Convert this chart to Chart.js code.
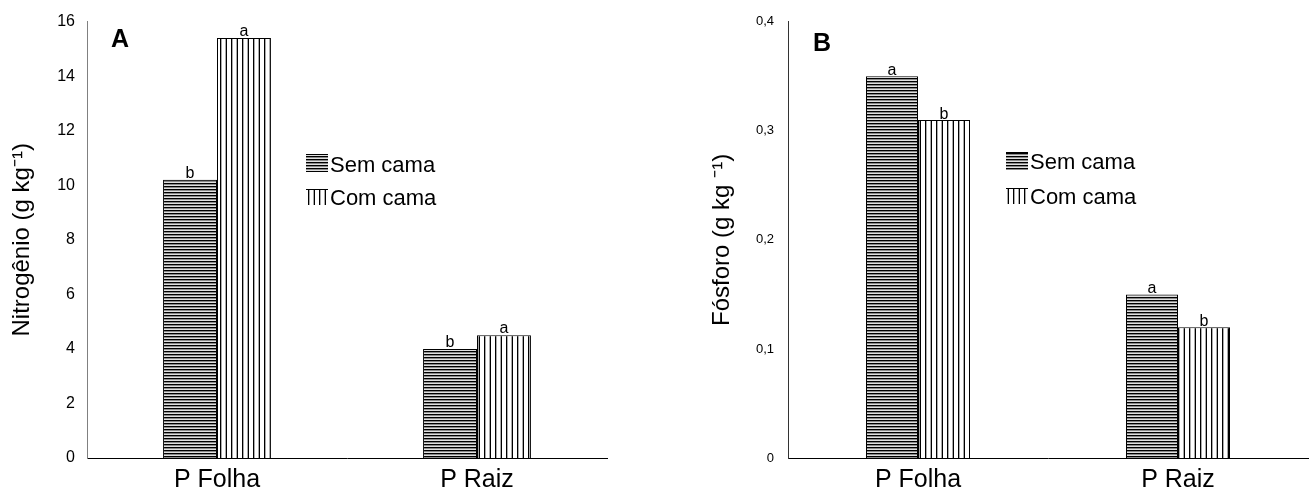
<!DOCTYPE html>
<html>
<head>
<meta charset="utf-8">
<script src="https://cdn.jsdelivr.net/npm/chart.js@4.4.0/dist/chart.umd.min.js"></script>
<style>
  body { margin: 0; background: #fff; }
  .panel { position: absolute; top: 0; height: 493px; }
  #panelA { left: 0; width: 650px; }
  #panelB { left: 650px; width: 659px; }
</style>
</head>
<body>
<div class="panel" id="panelA"><canvas id="chartA"></canvas></div>
<div class="panel" id="panelB"><canvas id="chartB"></canvas></div>
<script>
// Data
const categories = ['P Folha', 'P Raiz'];
const seriesNames = ['Sem cama', 'Com cama'];

const nitroSem = [10.2, 4.0];
const nitroCom = [15.4, 4.5];
const nitroSemLetters = ['b', 'b'];
const nitroComLetters = ['a', 'a'];

const phosSem = [0.35, 0.15];
const phosCom = [0.31, 0.12];
const phosSemLetters = ['a', 'a'];
const phosComLetters = ['b', 'b'];

const FONT = "'Liberation Sans', Arial, sans-serif";

// hatch patterns like the original (horizontal lines / vertical lines)
function horizPattern() {
    const c = document.createElement('canvas');
    c.width = 4; c.height = 3;
    const x = c.getContext('2d');
    x.fillStyle = '#000'; x.fillRect(0, 0, 4, 1);
    x.fillStyle = '#8a8a8a'; x.fillRect(0, 1, 4, 1);
    x.fillStyle = '#e0e0e0'; x.fillRect(0, 2, 4, 1);
    return x.createPattern(c, 'repeat');
}
function vertPattern() {
    const c = document.createElement('canvas');
    c.width = 11; c.height = 4;
    const x = c.getContext('2d');
    x.fillStyle = '#fff'; x.fillRect(0, 0, 11, 4);
    x.fillStyle = '#000'; x.fillRect(0, 0, 1, 4); x.fillRect(6, 0, 1, 4);
    x.fillStyle = '#aaa'; x.fillRect(1, 0, 1, 4); x.fillRect(5, 0, 1, 4);
    return x.createPattern(c, 'repeat');
}

// letters above the bars, panel letter and legend
const extrasPlugin = {
    id: 'extras',
    afterDatasetsDraw(chart, args, opts) {
        const ctx = chart.ctx;
        ctx.save();
        ctx.fillStyle = '#000';
        ctx.textAlign = 'center';
        ctx.textBaseline = 'alphabetic';
        ctx.font = opts.letterSize + 'px ' + FONT;
        chart.data.datasets.forEach((ds, i) => {
            chart.getDatasetMeta(i).data.forEach((bar, j) => {
                ctx.fillText(ds.letters[j], bar.x, bar.y - opts.letterGap);
            });
        });

        // panel letter
        ctx.textAlign = 'left';
        ctx.font = 'bold 25px ' + FONT;
        ctx.fillText(opts.panel, opts.panelX, opts.panelY);

        // legend
        ctx.font = '22px ' + FONT;
        opts.legend.forEach((item, i) => {
            const ds = chart.data.datasets[i];
            ctx.fillStyle = ds.backgroundColor;
            ctx.fillRect(item.bx, item.by, 22, item.bh);
            ctx.strokeStyle = '#000';
            ctx.lineWidth = 1;
            ctx.beginPath();
            ctx.moveTo(item.bx, item.by + 0.5);
            ctx.lineTo(item.bx + 22, item.by + 0.5);
            ctx.stroke();
            ctx.fillStyle = '#000';
            ctx.fillText(ds.label, item.tx, item.ty);
        });
        ctx.restore();
    }
};

function makeChart(id, sem, com, semLetters, comLetters, cfg) {
    const hp = horizPattern();
    const vp = vertPattern();
    return new Chart(document.getElementById(id), {
        type: 'bar',
        data: {
            labels: categories,
            datasets: [
                { label: seriesNames[0], data: sem, letters: semLetters, backgroundColor: hp,
                  borderColor: '#000', borderWidth: 1, borderSkipped: 'bottom' },
                { label: seriesNames[1], data: com, letters: comLetters, backgroundColor: vp,
                  borderColor: '#000', borderWidth: 1, borderSkipped: 'bottom' }
            ]
        },
        options: {
            responsive: true,
            maintainAspectRatio: false,
            animation: false,
            datasets: { bar: { categoryPercentage: cfg.catPct, barPercentage: 1.0 } },
            layout: { padding: { top: cfg.top, right: cfg.right, left: 0, bottom: 0 } },
            plugins: {
                legend: { display: false },
                tooltip: { enabled: false },
                extras: cfg.extras
            },
            scales: {
                x: {
                    grid: { display: false, drawTicks: false },
                    border: { color: '#000', width: 1 },
                    ticks: { color: '#000', font: { family: FONT, size: 25 }, padding: 7 },
                    afterFit: s => { s.height = 35; }
                },
                y: {
                    min: 0,
                    max: cfg.max,
                    grid: { display: false, drawTicks: false },
                    border: { color: cfg.axisColor, width: 1 },
                    ticks: {
                        stepSize: cfg.step,
                        color: '#000',
                        padding: cfg.tickPad,
                        font: { family: FONT, size: cfg.tickSize },
                        callback: cfg.tickFmt
                    },
                    title: {
                        display: true,
                        text: cfg.title,
                        color: '#000',
                        font: { family: FONT, size: 24 },
                        padding: { top: cfg.titlePad, bottom: 0 }
                    },
                    afterFit: s => { s.width = cfg.yWidth; }
                }
            }
        },
        plugins: [extrasPlugin]
    });
}

makeChart('chartA', nitroSem, nitroCom, nitroSemLetters, nitroComLetters, {
    catPct: 0.415, top: 18, right: 43, max: 16, step: 2, tickSize: 16, tickPad: 12,
    axisColor: '#808080', yWidth: 87, titlePad: 8,
    title: 'Nitrogênio (g kg\u207B\u00B9)',
    tickFmt: v => v,
    extras: {
        letterSize: 16, letterGap: 2, panel: 'A', panelX: 111, panelY: 47,
        legend: [
            { bx: 306, by: 154, bh: 18, tx: 330, ty: 172 },
            { bx: 306, by: 189, bh: 16, tx: 330, ty: 205 }
        ]
    }
});

makeChart('chartB', phosSem, phosCom, phosSemLetters, phosComLetters, {
    catPct: 0.4, top: 17, right: 1, max: 0.4, step: 0.1, tickSize: 13, tickPad: 14,
    axisColor: '#333', yWidth: 138, titlePad: 58,
    title: 'Fósforo (g kg \u207B\u00B9)',
    tickFmt: v => v === 0 ? '0' : v.toFixed(1).replace('.', ','),
    extras: {
        letterSize: 16, letterGap: 1, panel: 'B', panelX: 163, panelY: 51,
        legend: [
            { bx: 356, by: 152, bh: 18, tx: 380, ty: 169 },
            { bx: 356, by: 188, bh: 16, tx: 380, ty: 204 }
        ]
    }
});
</script>
</body>
</html>
